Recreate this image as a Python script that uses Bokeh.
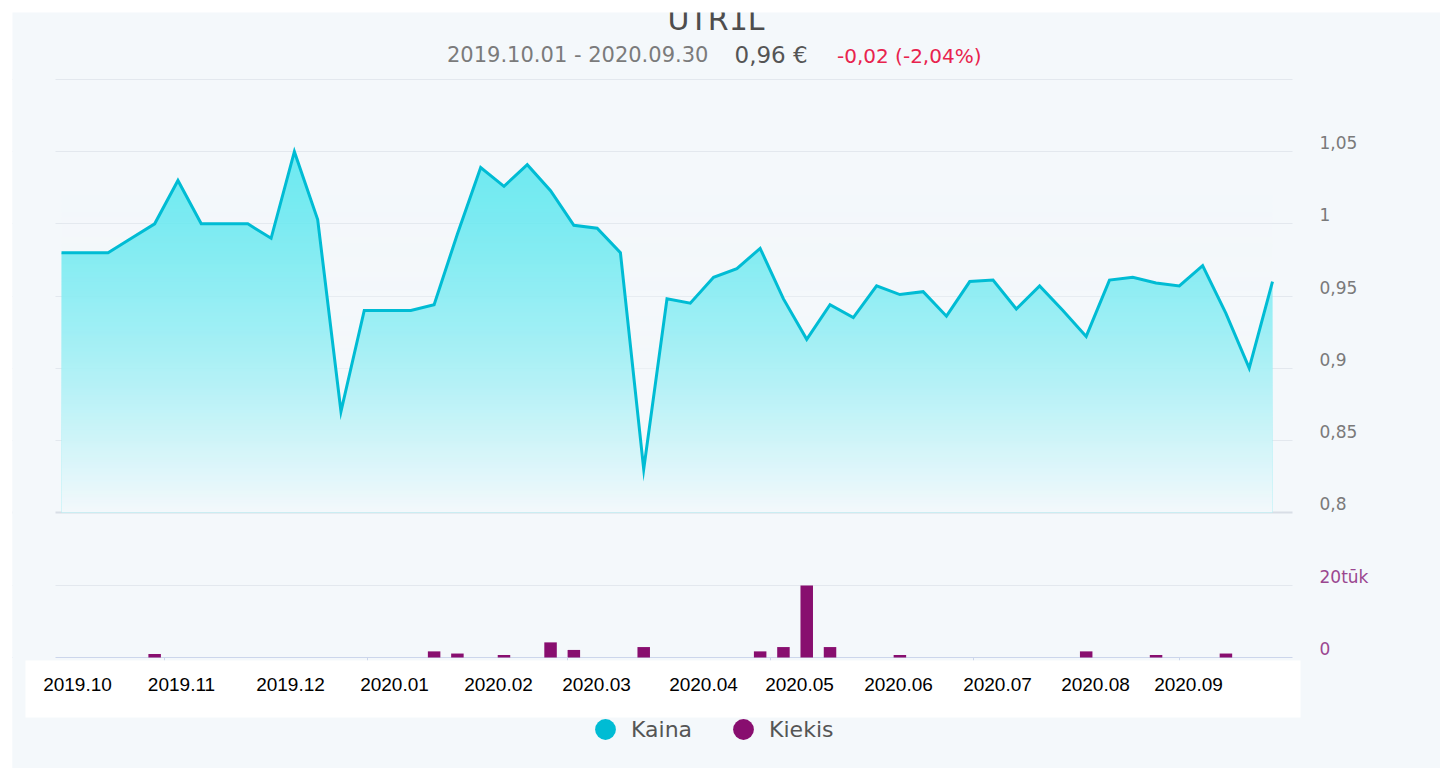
import numpy as np
import pandas as pd
from bokeh.plotting import figure
from bokeh.models import (Range1d, FixedTicker, Grid, ColumnDataSource, LabelSet,
                          BoxAnnotation, Legend, LegendItem, Spacer, DatetimeAxis,
                          MonthsTicker, CustomJSTickFormatter)
from bokeh.layouts import column, row
from bokeh.core.properties import value
from bokeh.embed import file_html
from bokeh.resources import INLINE

# ---------------- data ----------------
title_text = "UTR1L"
period_text = "2019.10.01 - 2020.09.30"
last_price_text = "0,96 €"
change_text = "-0,02 (-2,04%)"
series_names = ["Kaina", "Kiekis"]

week_starts = pd.date_range("2019-10-01", periods=53, freq="7D")

price = [0.98, 0.98, 0.98, 0.99, 1.00, 1.03, 1.00, 1.00, 1.00, 0.99,
         1.05, 1.003, 0.87, 0.94, 0.94, 0.94, 0.944, 0.993, 1.039, 1.026,
         1.041, 1.023, 0.999, 0.997, 0.98, 0.83, 0.948, 0.945, 0.963, 0.969,
         0.983, 0.948, 0.92, 0.944, 0.935, 0.957, 0.951, 0.953, 0.936, 0.960,
         0.961, 0.941, 0.957, 0.940, 0.922, 0.961, 0.963, 0.959, 0.957, 0.971,
         0.938, 0.90, 0.96]

volume = [0, 0, 0, 0, 1000, 0, 0, 0, 0, 0,
          0, 0, 0, 0, 0, 0, 1700, 1100, 0, 700,
          0, 4200, 2100, 0, 0, 2900, 0, 0, 0, 0,
          1700, 2900, 20000, 2900, 0, 0, 700, 0, 0, 0,
          0, 0, 0, 0, 1700, 0, 0, 700, 0, 0,
          1100, 0, 0]

price_ticks = [0.8, 0.85, 0.9, 0.95, 1.0, 1.05]
price_grid = [0.85, 0.9, 0.95, 1.0, 1.05, 1.1]
volume_ticks = [0, 20000]
volume_tick_labels = ["0", "20tūk"]
month_labels = ["2019.10", "2019.11", "2019.12", "2020.01", "2020.02", "2020.03",
                "2020.04", "2020.05", "2020.06", "2020.07", "2020.08", "2020.09"]

# ---------------- layout (page pixels) ----------------
ORIGIN = 12                           # chart starts at page (12, 12)
TICK = 3                              # small date ticks under the volume baseline
FL, FR, FT, FB = 12, 1440, 12, 768    # frame = chart card
PL, PR = 55, 1292                     # plotting area (grid extent)
X_FIRST, X_LAST = 61, 1272            # where first / last week sit
LBL = 9                               # y-labels sit above their gridlines
GLYPH_TEXT_DROP = 0.415               # text glyph baseline offset (em)

BG = "#f4f8fb"
CYAN = "#00bcd4"
PURPLE = "#880e6f"
AXIS = "#ccd6eb"
FONT = "DejaVu Sans"


def span(v_lo, y_lo, v_hi, y_hi):
    k = (v_hi - v_lo) / (y_lo - y_hi)
    return v_lo - (FB - y_lo) * k, v_hi + (y_hi - FT) * k, k


p0, p1, pk = span(price_ticks[0], 512, price_grid[-1], 79)
v0, v1, vk = span(volume_ticks[0], 657, volume_ticks[1], 585)

t_first = week_starts[0].value / 1e6
t_last = week_starts[-1].value / 1e6
ms_per_px = (t_last - t_first) / (X_LAST - X_FIRST)
x_start = t_first - (X_FIRST - FL) * ms_per_px
x_end = t_last + (FR - X_LAST) * ms_per_px

p = figure(frame_width=FR - FL, frame_height=FB - FT,
           min_border_left=0, min_border_top=0, min_border_right=0, min_border_bottom=0,
           x_range=Range1d(x_start, x_end), y_range=Range1d(p0, p1),
           x_axis_type="datetime", x_axis_location=None, y_axis_location=None,
           toolbar_location=None, output_backend="svg", title=None)
p.background_fill_color = BG
p.border_fill_color = BG
p.outline_line_color = None
for g in list(p.grid):
    g.visible = False

p.extra_x_ranges = {"px": Range1d(FL, FR)}
p.extra_y_ranges = {
    "px": Range1d(FB, FT),
    "vol": Range1d(v0, v1),
    "price_lbl": Range1d(p0 - LBL * pk, p1 - LBL * pk),
    "vol_lbl": Range1d(v0 - LBL * vk, v1 - LBL * vk),
}

# grids
p.add_layout(Grid(dimension=1, ticker=FixedTicker(ticks=price_grid),
                  grid_line_color="#e3e8ee", grid_line_width=1), "center")
p.add_layout(Grid(dimension=1, ticker=FixedTicker(ticks=[price_ticks[0]]),
                  grid_line_color="#d8dee6", grid_line_width=2), "center")
p.add_layout(Grid(dimension=1, y_range_name="vol", ticker=FixedTicker(ticks=[volume_ticks[1]]),
                  grid_line_color="#e3e8ee", grid_line_width=1), "center")
p.add_layout(Grid(dimension=1, y_range_name="vol", ticker=FixedTicker(ticks=[volume_ticks[0]]),
                  grid_line_color=AXIS, grid_line_width=1), "center")

# date axis: only its little ticks on the volume baseline show
xa = DatetimeAxis(ticker=MonthsTicker(months=[0, 2, 4, 6, 8, 10]),
                  formatter=CustomJSTickFormatter(code="return ''"),
                  y_range_name="vol", fixed_location=volume_ticks[0],
                  axis_line_color=None, major_tick_line_color=AXIS,
                  major_tick_out=TICK, major_tick_in=0,
                  minor_tick_line_color=None, minor_tick_out=0, minor_tick_in=0,
                  major_label_standoff=0, major_label_text_font_size="0px")
p.add_layout(xa, "below")

src = ColumnDataSource(dict(date=week_starts, price=price, volume=volume))

# price area with vertical fade
p.varea(x="date", y1=price_ticks[0], y2="price", source=src,
        fill_color="#58e7ee", fill_alpha=0.85)
H = 256
tt = 1.0 - (np.arange(H) + 0.5) / H
fog = np.empty((H, 1), dtype=np.uint32)
fv = fog.view(dtype=np.uint8).reshape((H, 1, 4))
fv[..., 0] = 244
fv[..., 1] = 248
fv[..., 2] = 251
fv[..., 3] = np.clip(tt ** 1.45 * 255, 0, 255).astype(np.uint8)[:, None]
p.image_rgba(image=[fog], x=t_first, y=price_ticks[0], dw=t_last - t_first,
             dh=max(price) - price_ticks[0])
r_price = p.line(x="date", y="price", source=src, line_color=CYAN, line_width=3,
                 line_join="miter")

# volume bars
r_vol = p.vbar(x="date", top="volume", bottom=0, width=12.5 * ms_per_px, source=src,
               y_range_name="vol", fill_color=PURPLE, line_color=None)


def head_text(x, y, txt, size, color, align="left"):
    p.text(x=[x], y=[y - GLYPH_TEXT_DROP * size], text=[txt],
           x_range_name="px", y_range_name="px",
           text_align=align, text_baseline="alphabetic", text_font=value(FONT),
           text_font_size=f"{size}px", text_color=color)


# title block (clipped at the top of the card)
head_text(715.5, 31.5, title_text, 30, "#4d4d4d", align="center")
head_text(446.5, 63.5, period_text, 21, "#7b7b7b")
head_text(734, 64, last_price_text, 23, "#555555")
head_text(836.5, 63.5, change_text, 20, "#e8234d")

# keep grid lines inside the plotting area
for lft, rgt in ((FL, PL), (PR, FR)):
    p.add_layout(BoxAnnotation(left=lft, right=rgt, top=70, bottom=FB,
                               x_range_name="px", y_range_name="px",
                               fill_color=BG, fill_alpha=1.0, line_color=None), "center")

# y labels (price: grey, volume: purple)
psrc = ColumnDataSource(dict(y=price_ticks,
                             text=[f"{t:g}".replace(".", ",") for t in price_ticks]))
p.add_layout(LabelSet(x=1319, y="y", text="text", source=psrc,
                      x_range_name="px", y_range_name="price_lbl",
                      text_align="left", text_baseline="middle",
                      text_font=value(FONT), text_font_size="17px",
                      text_color="#7a7a7a"), "center")
vsrc = ColumnDataSource(dict(y=volume_ticks, text=volume_tick_labels))
p.add_layout(LabelSet(x=1319, y="y", text="text", source=vsrc,
                      x_range_name="px", y_range_name="vol_lbl",
                      text_align="left", text_baseline="middle",
                      text_font=value(FONT), text_font_size="17px",
                      text_color="#9b4790"), "center")

# white strip with month labels
p.add_layout(BoxAnnotation(left=25, right=1300, top=660, bottom=717,
                           x_range_name="px", y_range_name="px",
                           fill_color="white", fill_alpha=1.0, line_color=None), "center")
label_pos = [77, 181, 290, 394, 498, 596, 703, 799, 898, 997, 1095, 1188]
msrc = ColumnDataSource(dict(x=label_pos, text=month_labels))
p.add_layout(LabelSet(x="x", y=690, text="text", source=msrc,
                      x_range_name="px", y_range_name="px",
                      text_align="center", text_baseline="alphabetic",
                      text_font=value("Liberation Sans"), text_font_size="19px",
                      text_color="#000000"), "center")

# legend markers: invisible (size 0) scatters bound to the series
rk = p.scatter(x="date", y="price", source=src, marker="circle", size=0,
               fill_color=CYAN, line_color=None)
rv = p.scatter(x="date", y="volume", source=src, y_range_name="vol", marker="circle",
               size=0, fill_color=PURPLE, line_color=None)
legend = Legend(items=[LegendItem(label=series_names[0], renderers=[rk]),
                       LegendItem(label=series_names[1], renderers=[rv])],
                location=(579 - FL, FB - 755), orientation="horizontal",
                glyph_width=52, glyph_height=52, label_standoff=0, spacing=25,
                padding=0, margin=0, border_line_color=None,
                background_fill_alpha=0, label_text_font=FONT,
                label_text_font_size="22px", label_text_color="#555555")
p.add_layout(legend, "center")

layout = column(Spacer(height=ORIGIN), row(Spacer(width=ORIGIN), p))
open("out.html", "w").write(file_html(layout, INLINE))
